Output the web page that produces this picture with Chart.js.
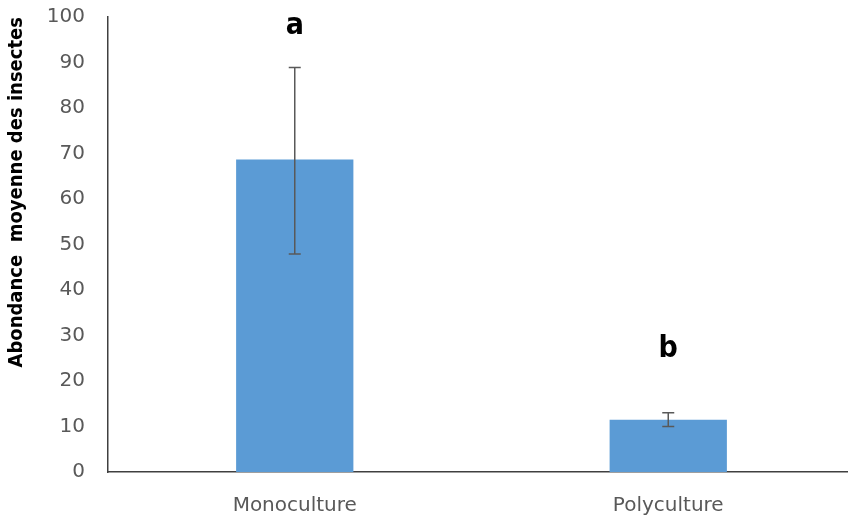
<!DOCTYPE html>
<html>
<head>
<meta charset="utf-8">
<script src="https://cdn.jsdelivr.net/npm/chart.js@4"></script>
<style>
    html, body { margin: 0; padding: 0; background: #ffffff; overflow: hidden; }
    /* plot area runs slightly past the right edge, as in the original figure */
    #wrap { width: 855px; height: 519px; }
</style>
</head>
<body>
<div id="wrap"><canvas id="barChart"></canvas></div>
<script>
// Data
const categories = ['Monoculture', 'Polyculture'];
const meanValues = [68.7, 11.5];
const errorLow = [47.9, 10.0];
const errorHigh = [88.9, 13.0];
const groupLetters = ['a', 'b'];
const letterValues = [98, 27];

// Draws error bars and significance letters on top of the bars
const errorBarPlugin = {
    id: 'errorBars',
    afterDatasetsDraw(chart) {
        const ctx = chart.ctx;
        const xScale = chart.scales.x;
        const yScale = chart.scales.y;
        ctx.save();
        ctx.strokeStyle = '#595959';
        ctx.lineWidth = 1.5;
        categories.forEach((cat, i) => {
            const x = xScale.getPixelForValue(i);
            const yTop = yScale.getPixelForValue(errorHigh[i]);
            const yBot = yScale.getPixelForValue(errorLow[i]);
            ctx.beginPath();
            ctx.moveTo(x, yTop);
            ctx.lineTo(x, yBot);
            ctx.moveTo(x - 6, yTop);
            ctx.lineTo(x + 6, yTop);
            ctx.moveTo(x - 6, yBot);
            ctx.lineTo(x + 6, yBot);
            ctx.stroke();

            // letter
            ctx.fillStyle = '#000000';
            ctx.font = 'bold 30px "DejaVu Sans Condensed", "DejaVu Sans", sans-serif';
            ctx.textAlign = 'center';
            ctx.textBaseline = 'middle';
            ctx.fillText(groupLetters[i], x, yScale.getPixelForValue(letterValues[i]));
        });
        ctx.restore();
    }
};

const ctx = document.getElementById('barChart').getContext('2d');
const chart = new Chart(ctx, {
    type: 'bar',
    data: {
        labels: categories,
        datasets: [{
            data: meanValues,
            backgroundColor: '#5B9BD5',
            borderWidth: 0,
            barPercentage: 1.0,
            categoryPercentage: 0.314
        }]
    },
    options: {
        responsive: true,
        maintainAspectRatio: false,
        animation: false,
        layout: {
            padding: { top: 17, right: 0, left: 0, bottom: 0 }
        },
        plugins: {
            legend: { display: false },
            tooltip: { enabled: false }
        },
        scales: {
            x: {
                grid: { display: false, drawTicks: false },
                border: { display: true, color: '#404040', width: 1.5 },
                ticks: {
                    color: '#595959',
                    font: { size: 20, family: '"DejaVu Sans", sans-serif' },
                    padding: 22
                },
                afterFit(scale) {
                    scale.height = 47;
                    scale.paddingLeft = 0;
                    scale.paddingRight = 0;
                }
            },
            y: {
                min: 0,
                max: 100,
                grid: { display: false, drawTicks: false },
                border: { display: true, color: '#404040', width: 1.5 },
                ticks: {
                    stepSize: 10,
                    color: '#595959',
                    font: { size: 20, family: '"DejaVu Sans", sans-serif' },
                    padding: 23
                },
                title: {
                    display: true,
                    align: 'end',
                    text: 'Abondance  moyenne des insectes',
                    color: '#000000',
                    font: { size: 20, weight: 'bold', family: '"DejaVu Sans Condensed", "DejaVu Sans", sans-serif' },
                    padding: { top: 5, bottom: 0 }
                },
                afterFit(scale) {
                    scale.width = 108;
                    scale.paddingTop = 0;
                    scale.paddingBottom = 0;
                }
            }
        }
    },
    plugins: [errorBarPlugin]
});
</script>
</body>
</html>
